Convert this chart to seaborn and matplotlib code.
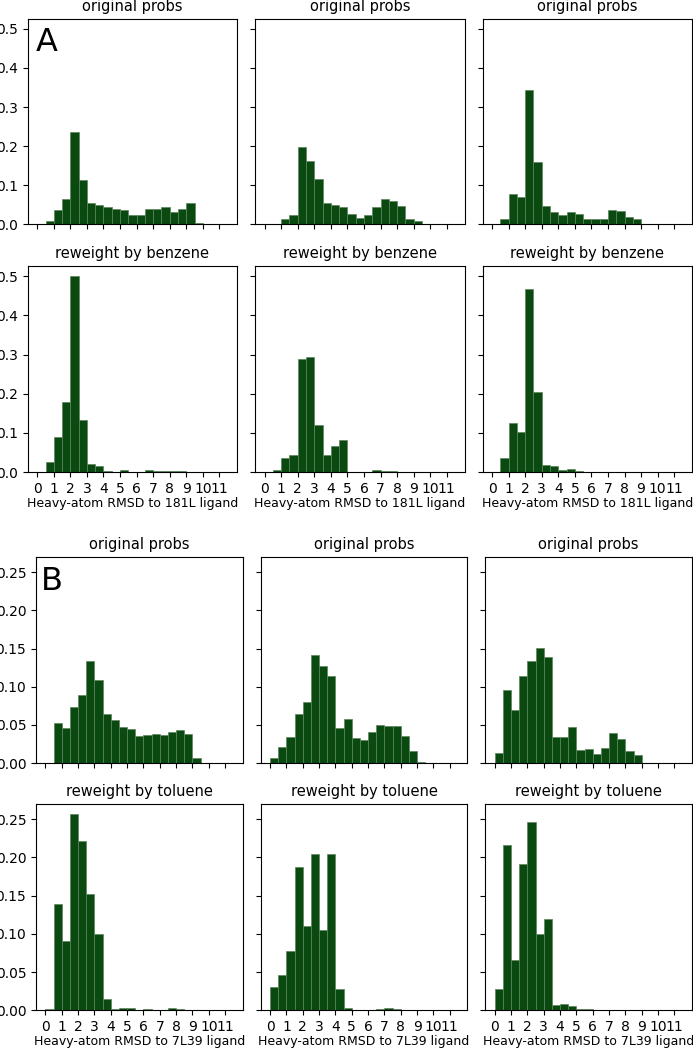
#!/usr/bin/env python
"""Histograms of heavy-atom RMSD of ligand poses, original probabilities
vs. probabilities reweighted by a probe ligand (benzene / toluene).
"""
import matplotlib
matplotlib.use('Agg')
import matplotlib.pyplot as plt
import seaborn as sb
import pandas as pd
import numpy as np


# bin edges used for every panel (width 0.5 angstrom)
bin_edges = list(np.arange(0, 12, 0.5))
xticks = list(range(0, 12))

# panel A: RMSD to 181L ligand, three runs each
a_original = [
    [0, 0.010, 0.036, 0.064, 0.235, 0.113, 0.054, 0.051, 0.044, 0.040, 0.036, 0.024,
     0.024, 0.040, 0.040, 0.044, 0.032, 0.040, 0.055, 0.003, 0, 0, 0],
    [0, 0.002, 0.014, 0.023, 0.199, 0.162, 0.116, 0.056, 0.051, 0.045, 0.028, 0.017,
     0.024, 0.044, 0.064, 0.059, 0.046, 0.015, 0.010, 0, 0, 0, 0],
    [0, 0.015, 0.079, 0.069, 0.344, 0.160, 0.048, 0.031, 0.024, 0.031, 0.026, 0.014,
     0.014, 0.015, 0.038, 0.034, 0.020, 0.015, 0.002, 0, 0, 0, 0],
]
a_reweight = [
    [0, 0.026, 0.090, 0.180, 0.500, 0.132, 0.021, 0.015, 0.003, 0.001, 0.006, 0.001,
     0.001, 0.004, 0.002, 0.002, 0.002, 0.002, 0.001, 0.0005, 0, 0, 0],
    [0, 0.005, 0.037, 0.044, 0.288, 0.295, 0.119, 0.044, 0.067, 0.081, 0.001, 0,
     0.0005, 0.005, 0.003, 0.003, 0, 0, 0, 0, 0, 0, 0],
    [0, 0.037, 0.126, 0.103, 0.468, 0.205, 0.019, 0.016, 0.004, 0.008, 0.002, 0.001,
     0, 0, 0, 0, 0, 0, 0, 0, 0, 0, 0],
]

# panel B: RMSD to 7L39 ligand
b_original = [
    [0, 0.053, 0.046, 0.073, 0.089, 0.134, 0.109, 0.064, 0.057, 0.047, 0.045, 0.035,
     0.037, 0.038, 0.037, 0.041, 0.043, 0.038, 0.007, 0, 0, 0, 0],
    [0.007, 0.021, 0.034, 0.064, 0.080, 0.141, 0.127, 0.114, 0.046, 0.058, 0.033, 0.030,
     0.041, 0.050, 0.049, 0.049, 0.035, 0.016, 0.002, 0, 0, 0, 0],
    [0.013, 0.096, 0.070, 0.114, 0.134, 0.151, 0.139, 0.034, 0.034, 0.047, 0.017, 0.018,
     0.012, 0.020, 0.039, 0.031, 0.016, 0.010, 0, 0, 0, 0, 0],
]
b_reweight = [
    [0.001, 0.139, 0.091, 0.257, 0.222, 0.152, 0.100, 0.014, 0.002, 0.003, 0.003, 0.0005,
     0.001, 0, 0.0005, 0.003, 0.001, 0.0005, 0, 0, 0, 0, 0],
    [0.031, 0.046, 0.077, 0.188, 0.110, 0.204, 0.105, 0.204, 0.028, 0.003, 0.0005, 0.0005,
     0, 0.001, 0.003, 0.001, 0, 0, 0, 0, 0, 0, 0],
    [0.028, 0.216, 0.066, 0.191, 0.246, 0.100, 0.120, 0.007, 0.008, 0.006, 0.001, 0.001,
     0.0003, 0, 0.0003, 0, 0, 0, 0, 0, 0, 0, 0],
]

bar_color = '#0a4a10'
edge_color = '#5b855c'


def draw_group(fig, grid, original, reweight, probe, ligand, letter, letter_pos):
    """Draw one 2x3 block of histograms into the given gridspec"""
    axes = grid.subplots(sharex=True, sharey=True)
    centers = [(lo + hi) / 2.0 for lo, hi in zip(bin_edges[:-1], bin_edges[1:])]
    rows = [(original, 'original probs'), (reweight, 'reweight by ' + probe)]
    for r, (series, title) in enumerate(rows):
        for c, probs in enumerate(series):
            ax = axes[r, c]
            df = pd.DataFrame({'rmsd': centers, 'prob': probs})
            sb.histplot(data=df, x='rmsd', weights='prob', bins=bin_edges,
                        color=bar_color, alpha=1.0, edgecolor=edge_color,
                        linewidth=0.5, ax=ax)
            ax.set_title(title, fontsize=10.5)
            ax.set_ylabel('')
            ax.set_xlabel('')
            ax.set_xticks(xticks)
            ax.tick_params(labelsize=10)
            if r == 1:
                ax.set_xlabel('Heavy-atom RMSD to %s ligand' % ligand,
                              fontsize=9, labelpad=1)
    axes[0, 0].text(letter_pos[0], letter_pos[1], letter, fontsize=23,
                    transform=axes[0, 0].transAxes, va='top', ha='left')
    return axes


def main():
    fig = plt.figure(figsize=(6.93, 10.49), dpi=100)

    grid_a = fig.add_gridspec(2, 3, left=0.040, right=0.9985, top=0.982,
                              bottom=0.550, wspace=0.086, hspace=0.204)
    grid_b = fig.add_gridspec(2, 3, left=0.052, right=0.9985, top=0.469,
                              bottom=0.037, wspace=0.087, hspace=0.199)

    draw_group(fig, grid_a, a_original, a_reweight, 'benzene', '181L', 'A',
               (0.036, 0.962))
    draw_group(fig, grid_b, b_original, b_reweight, 'toluene', '7L39', 'B',
               (0.022, 0.958))

    fig.savefig('out.png', dpi=100)


if __name__ == "__main__":
    main()
